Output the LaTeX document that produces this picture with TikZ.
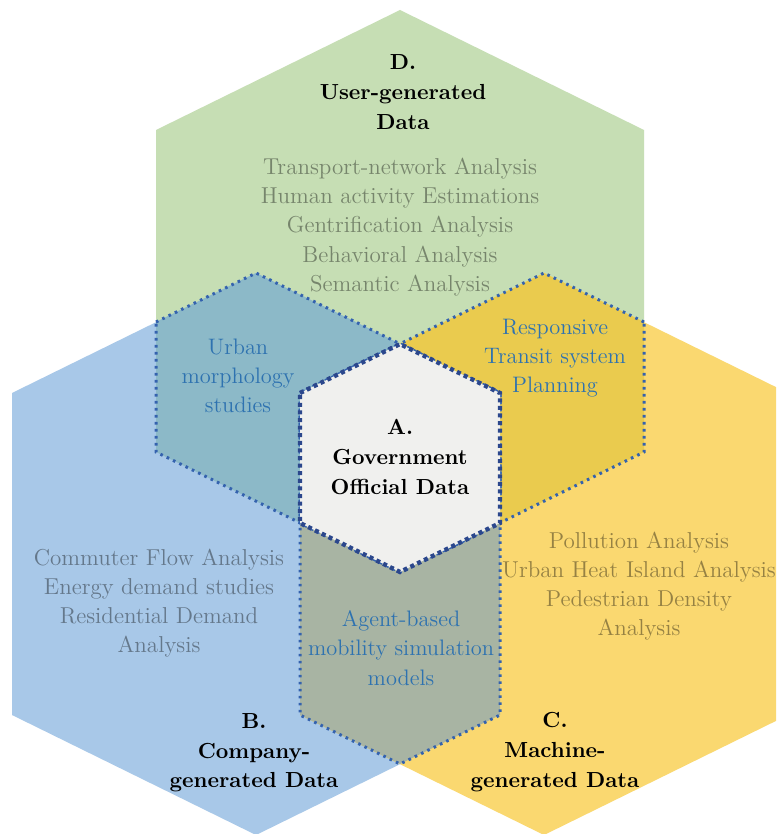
\documentclass[tikz,border=0pt]{standalone}
\usepackage{fontspec}
\definecolor{userfill}{HTML}{C6DEB4}
\definecolor{companyfill}{HTML}{A8C8E8}
\definecolor{machinefill}{HTML}{FAD870}
\definecolor{usercompany}{HTML}{8CB9C8}
\definecolor{usermachine}{HTML}{EACB4E}
\definecolor{companymachine}{HTML}{A8B4A3}
\definecolor{govfill}{HTML}{F0F0EE}
\definecolor{overlapline}{HTML}{3462AE}
\definecolor{govline}{HTML}{2B478C}
\definecolor{casetext}{HTML}{2E72B0}
\tikzstyle{overlap}=[draw=overlapline, line width=1.5pt, dash pattern=on 1.3pt off 2.2pt]
\tikzstyle{core}=[draw=govline, line width=2.2pt, dash pattern=on 2pt off 1.8pt]
\tikzstyle{heading}=[font=\fontsize{10.9}{14.8}\selectfont\bfseries, align=center, text=black]
\tikzstyle{topic}=[font=\fontsize{11.5}{14.6}\selectfont, align=center, text=black, text opacity=0.4]
\tikzstyle{usecase}=[font=\fontsize{11.2}{14.6}\selectfont, align=center, text=casetext]

\begin{document}
\begin{tikzpicture}[x=0.5pt, y=-0.5pt]
    \useasboundingbox (0,0) rectangle (776,834);
    \fill[white] (0,0) rectangle (776,834);
    \clip (0,0) rectangle (776,834);

    \fill[userfill] (400,10) -- (644,130) -- (644,452) -- (400,572) -- (156,452) -- (156,130) -- cycle;
    \fill[companyfill] (256,273) -- (500,393) -- (500,715) -- (256,835) -- (12,715) -- (12,393) -- cycle;
    \fill[machinefill] (544,273) -- (788,393) -- (788,715) -- (544,835) -- (300,715) -- (300,393) -- cycle;

    \fill[usercompany] (156,322) -- (256,273) -- (500,393) -- (500,523) -- (400,572) -- (156,452) -- cycle;
    \fill[usermachine] (644,322) -- (544,273) -- (300,393) -- (300,523) -- (400,572) -- (644,452) -- cycle;
    \fill[companymachine] (300,393) -- (400,344) -- (500,393) -- (500,715) -- (400,764) -- (300,715) -- cycle;
    \draw[overlap] (156,322) -- (256,273) -- (500,393) -- (500,523) -- (400,572) -- (156,452) -- cycle;
    \draw[overlap] (644,322) -- (544,273) -- (300,393) -- (300,523) -- (400,572) -- (644,452) -- cycle;
    \draw[overlap] (300,393) -- (400,344) -- (500,393) -- (500,715) -- (400,764) -- (300,715) -- cycle;

    \filldraw[fill=govfill, core] (300,393) -- (400,344) -- (500,393) -- (500,523) -- (400,572) -- (300,523) -- cycle;

    \node[heading] (user) at (403,92) {D.\\User-generated\\Data};
    \node[topic] (user topics) at (400,227) {Transport-network Analysis\\Human activity Estimations\\Gentrification Analysis\\Behavioral Analysis\\Semantic Analysis};
    \node[usecase] (morphology) at (238,376) {Urban\\morphology\\studies};
    \node[usecase] (transit) at (555,358) {Responsive\\Transit system\\Planning};
    \node[heading] (government) at (400,457) {A.\\Government\\Official Data};
    \node[topic] (company topics) at (159,603) {Commuter Flow Analysis\\Energy demand studies\\Residential Demand\\Analysis};
    \node[usecase] (mobility) at (401,648) {Agent-based\\mobility simulation\\models};
    \node[topic] (machine topics) at (639,586) {Pollution Analysis\\Urban Heat Island Analysis\\Pedestrian Density\\Analysis};
    \node[heading] (company) at (254,753) {B.\\Company-\\generated Data};
    \node[heading] (machine) at (555,752) {C.\\Machine-\\generated Data};
\end{tikzpicture}
\end{document}
